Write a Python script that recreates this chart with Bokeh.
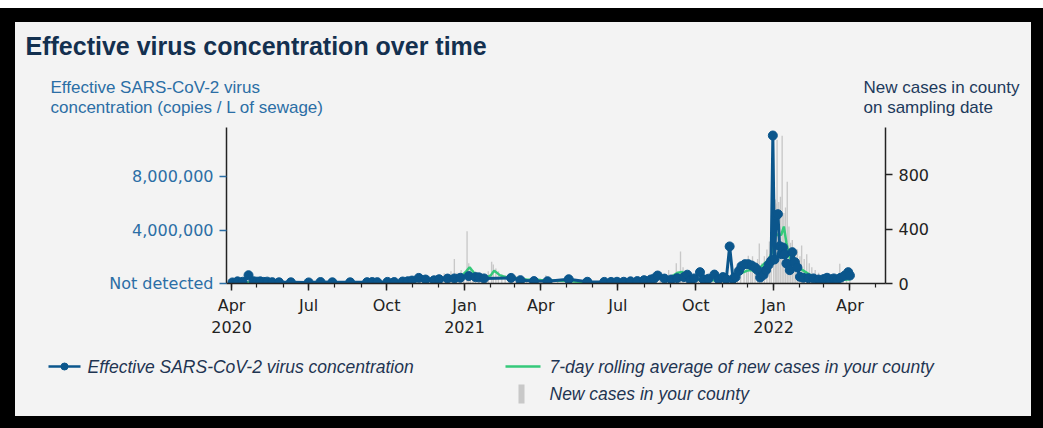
import pandas as pd
from bokeh.plotting import figure
from bokeh.core.properties import value
from bokeh.models import (Range1d, LinearAxis, FixedTicker, ColumnDataSource, GlobalInlineStyleSheet)
from bokeh.embed import file_html
from bokeh.resources import INLINE

# ---------------- data ----------------
conc_dates = [
    "2020-04-02", "2020-04-08", "2020-04-14", "2020-04-21", "2020-04-27", "2020-05-01", "2020-05-05",
    "2020-05-09", "2020-05-13", "2020-05-19", "2020-05-27", "2020-06-10", "2020-07-01", "2020-07-15",
    "2020-07-29", "2020-08-19", "2020-09-08", "2020-09-14", "2020-09-20", "2020-10-02", "2020-10-10",
    "2020-10-20", "2020-10-26", "2020-10-31", "2020-11-08", "2020-11-16", "2020-11-26", "2020-12-02",
    "2020-12-12", "2020-12-20", "2020-12-27", "2021-01-06", "2021-01-14", "2021-01-18", "2021-01-24",
    "2021-02-25", "2021-03-08", "2021-03-24", "2021-04-09", "2021-05-04", "2021-05-26", "2021-06-15",
    "2021-06-23", "2021-06-30", "2021-07-08", "2021-07-16", "2021-07-24", "2021-08-01", "2021-08-09",
    "2021-08-13", "2021-08-17", "2021-08-25", "2021-09-02", "2021-09-09", "2021-09-17", "2021-09-21",
    "2021-09-25", "2021-09-29", "2021-10-06", "2021-10-10", "2021-10-16", "2021-10-23", "2021-10-28",
    "2021-11-02", "2021-11-06", "2021-11-10", "2021-11-14", "2021-11-17", "2021-11-21", "2021-11-24",
    "2021-11-28", "2021-12-02", "2021-12-06", "2021-12-10", "2021-12-13", "2021-12-16", "2021-12-20",
    "2021-12-23", "2021-12-26", "2021-12-29", "2021-12-31", "2022-01-02", "2022-01-04", "2022-01-06",
    "2022-01-08", "2022-01-10", "2022-01-12", "2022-01-14", "2022-01-16", "2022-01-18", "2022-01-20",
    "2022-01-23", "2022-01-26", "2022-01-29", "2022-02-01", "2022-02-05", "2022-02-11", "2022-02-17",
    "2022-02-23", "2022-03-01", "2022-03-05", "2022-03-09", "2022-03-13", "2022-03-17", "2022-03-21",
    "2022-03-26", "2022-03-30", "2022-04-01",
]
conc_values = [
    80000, 160000, 130000, 620000, 170000, 140000, 160000,
    120000, 140000, 100000, 90000, 90000, 80000, 110000,
    90000, 90000, 100000, 110000, 100000, 120000, 110000,
    150000, 170000, 220000, 420000, 300000, 240000, 320000,
    370000, 380000, 430000, 560000, 480000, 460000, 380000,
    420000, 250000, 180000, 170000, 320000, 130000, 120000,
    120000, 130000, 130000, 160000, 180000, 250000, 300000,
    380000, 600000, 370000, 300000, 400000, 480000, 660000,
    250000, 380000, 850000, 320000, 360000, 670000, 300000,
    480000, 320000, 2780000, 350000, 480000, 950000, 1300000,
    1450000, 1450000, 1350000, 1200000, 1000000, 450000, 650000,
    1000000, 1400000, 1700000, 11100000, 1800000, 5100000, 5200000,
    2800000, 2200000, 2700000, 2200000, 1500000, 1450000, 1000000,
    2350000, 1600000, 1200000, 500000, 430000, 400000, 380000,
    300000, 330000, 430000, 300000, 380000, 300000, 430000,
    600000, 850000, 600000,
]

case_dates = [
    "2020-04-03", "2020-04-08", "2020-04-13", "2020-04-17", "2020-04-21", "2020-04-24", "2020-04-28",
    "2020-05-02", "2020-05-06", "2020-05-12", "2020-05-20", "2020-06-01", "2020-06-15", "2020-07-01",
    "2020-07-10", "2020-07-20", "2020-08-01", "2020-08-15", "2020-09-01", "2020-09-15", "2020-10-01",
    "2020-10-15", "2020-10-22", "2020-10-29", "2020-11-05", "2020-11-10", "2020-11-14", "2020-11-19",
    "2020-11-24", "2020-11-30", "2020-12-03", "2020-12-08", "2020-12-12", "2020-12-16", "2020-12-20",
    "2020-12-23", "2020-12-28", "2020-12-31", "2021-01-04", "2021-01-06", "2021-01-08", "2021-01-11",
    "2021-01-14", "2021-01-18", "2021-01-22", "2021-01-26", "2021-01-29", "2021-02-02", "2021-02-04",
    "2021-02-07", "2021-02-10", "2021-02-14", "2021-02-18", "2021-02-22", "2021-02-26", "2021-03-03",
    "2021-03-09", "2021-03-15", "2021-03-22", "2021-03-29", "2021-04-07", "2021-04-14", "2021-04-21",
    "2021-05-01", "2021-05-12", "2021-05-24", "2021-06-05", "2021-06-20", "2021-07-05", "2021-07-20",
    "2021-07-28", "2021-08-05", "2021-08-12", "2021-08-20", "2021-08-25", "2021-08-30", "2021-09-03",
    "2021-09-08", "2021-09-13", "2021-09-16", "2021-09-20", "2021-09-24", "2021-09-28", "2021-10-04",
    "2021-10-10", "2021-10-18", "2021-10-25", "2021-11-01", "2021-11-08", "2021-11-15", "2021-11-19",
    "2021-11-23", "2021-11-27", "2021-11-30", "2021-12-02", "2021-12-05", "2021-12-07", "2021-12-10",
    "2021-12-13", "2021-12-15", "2021-12-18", "2021-12-21", "2021-12-24", "2021-12-27", "2021-12-29",
    "2022-01-01", "2022-01-03", "2022-01-04", "2022-01-05", "2022-01-07", "2022-01-09", "2022-01-11",
    "2022-01-13", "2022-01-15", "2022-01-17", "2022-01-19", "2022-01-21", "2022-01-23", "2022-01-25",
    "2022-01-27", "2022-01-29", "2022-02-01", "2022-02-03", "2022-02-06", "2022-02-09", "2022-02-12",
    "2022-02-15", "2022-02-19", "2022-02-23", "2022-02-27", "2022-03-03", "2022-03-08", "2022-03-14",
    "2022-03-20", "2022-03-24", "2022-03-28", "2022-04-01",
]
case_values = [
    10, 15, 20, 25, 30, 20, 25,
    18, 15, 12, 10, 8, 6, 10,
    8, 12, 10, 8, 6, 10, 12,
    15, 25, 20, 30, 40, 35, 55,
    45, 50, 60, 75, 65, 90, 180,
    80, 100, 70, 385, 150, 120, 100,
    90, 70, 65, 60, 90, 160, 140,
    110, 90, 70, 60, 50, 45, 55,
    40, 35, 30, 35, 60, 30, 25,
    20, 15, 10, 8, 6, 8, 15,
    20, 30, 40, 50, 70, 100, 60,
    150, 235, 120, 80, 60, 50, 40,
    35, 30, 35, 30, 45, 60, 90,
    132, 100, 160, 205, 150, 200, 120,
    180, 295, 150, 200, 250, 310, 220,
    450, 620, 590, 1060, 600, 640, 1090,
    520, 560, 750, 420, 300, 320, 200,
    230, 250, 200, 280, 180, 215, 150,
    120, 100, 80, 60, 50, 40, 60,
    145, 50, 40, 30,
]

avg_dates = [
    "2020-04-01", "2020-04-20", "2020-05-15", "2020-06-15", "2020-07-15", "2020-08-15", "2020-09-15",
    "2020-10-15", "2020-11-01", "2020-11-15", "2020-12-01", "2020-12-10", "2020-12-18", "2020-12-28",
    "2021-01-03", "2021-01-07", "2021-01-12", "2021-01-18", "2021-01-25", "2021-02-01", "2021-02-05",
    "2021-02-12", "2021-02-20", "2021-03-01", "2021-03-15", "2021-04-01", "2021-04-15", "2021-05-01",
    "2021-05-15", "2021-06-01", "2021-06-15", "2021-07-01", "2021-07-15", "2021-08-01", "2021-08-15",
    "2021-09-01", "2021-09-10", "2021-09-15", "2021-09-20", "2021-10-01", "2021-10-15", "2021-11-01",
    "2021-11-15", "2021-11-20", "2021-11-25", "2021-12-01", "2021-12-06", "2021-12-10", "2021-12-18",
    "2021-12-26", "2021-12-30", "2022-01-03", "2022-01-06", "2022-01-10", "2022-01-13", "2022-01-16",
    "2022-01-20", "2022-01-27", "2022-02-05", "2022-02-15", "2022-02-25", "2022-03-10", "2022-03-20",
    "2022-03-30", "2022-04-02",
]
avg_values = [
    2, 8, 5, 3, 5, 6, 6,
    10, 20, 30, 35, 40, 55, 50,
    90, 120, 80, 50, 40, 60, 95,
    60, 45, 40, 30, 25, 22, 18,
    12, 8, 5, 5, 8, 20, 40,
    45, 80, 85, 60, 30, 25, 20,
    30, 60, 80, 95, 100, 84, 130,
    175, 230, 370, 355, 360, 420, 300,
    190, 130, 95, 55, 40, 30, 25,
    30, 35,
]

x_tick_dates = ["2020-04-01", "2020-07-01", "2020-10-01", "2021-01-01", "2021-04-01",
                "2021-07-01", "2021-10-01", "2022-01-01", "2022-04-01"]
x_tick_labels = ["Apr\n2020", "Jul", "Oct", "Jan\n2021", "Apr", "Jul", "Oct", "Jan\n2022", "Apr"]
conc_ticks = [0, 4000000, 8000000]
conc_tick_labels = ["Not detected", "4,000,000", "8,000,000"]
case_ticks = [0, 400, 800]

title_text = "Effective virus concentration over time"
left_label_lines = ["Effective SARS-CoV-2 virus", "concentration (copies / L of sewage)"]
right_label_lines = ["New cases in county", "on sampling date"]
legend_labels = ["Effective SARS-CoV-2 virus concentration",
                 "7-day rolling average of new cases in your county",
                 "New cases in your county"]

# ---------------- styling ----------------
BG = "#f3f3f3"
BLUE = "#0b568c"
GREEN = "#35c97a"
GRAY = "#c8c8c8"
AXBLUE = "#2b6ea5"
NAVY = "#13304f"
RNAVY = "#1d3a5c"
LEGTXT = "#1f3552"
W = 1016
FONT = value("Liberation Sans")


def ms(s):
    return int(pd.Timestamp(s).value // 10**6)


DAY = 86400000
x0, x1 = ms("2020-03-26"), ms("2022-05-13")


def strip(h):
    """A figure whose plotting frame is its whole canvas (1 data unit = 1 px)."""
    f = figure(width=W, height=h, output_backend="svg", toolbar_location=None,
               x_range=Range1d(0, W), y_range=Range1d(0, h),
               x_axis_location=None, y_axis_location=None,
               min_border_left=0, min_border_right=0, min_border_top=0, min_border_bottom=0,
               background_fill_color=BG, border_fill_color=BG)
    f.outline_line_color = None
    f.xgrid.visible = False
    f.ygrid.visible = False
    return f


# ---------------- header: title and the two axis titles ----------------
head = strip(105)


def head_text(txt, x, y, size, color, style="normal"):
    head.text(x=[x], y=[y], text=[txt], text_font=FONT, text_font_size=size,
              text_font_style=style, text_color=color,
              text_align="left", text_baseline="alphabetic")


head_text(title_text, 10, 82, "25px", NAVY, "bold")
head_text(left_label_lines[0], 35, 40, "17px", AXBLUE)
head_text(left_label_lines[1], 35, 20, "17px", AXBLUE)
head_text(right_label_lines[0], 848, 40, "17px", RNAVY)
head_text(right_label_lines[1], 848, 20, "17px", RNAVY)

# ---------------- main chart ----------------
p = figure(width=W, height=213, x_axis_type="datetime",
           output_backend="svg", toolbar_location=None,
           x_range=Range1d(x0, x1), y_range=Range1d(0, 11.7e6),
           min_border_left=211, min_border_right=146, min_border_top=0, min_border_bottom=55,
           background_fill_color=BG, border_fill_color=BG)
p.outline_line_color = None
p.extra_y_ranges = {"cases": Range1d(0, 1150)}
p.xgrid.visible = False
p.ygrid.visible = False
p.stylesheets = [GlobalInlineStyleSheet(css=(
    "html{background-color:#000000;background-image:linear-gradient(#ffffff,#ffffff);"
    "background-repeat:no-repeat;background-size:100% 8px;overflow:hidden;}"
    "html body{margin:22px 12px 0 15px !important;padding:0 !important;height:auto !important;"
    "background:" + BG + ";display:flex !important;flex-direction:column;align-items:flex-start;}"
))]

case_src = ColumnDataSource(dict(x=[ms(d) for d in case_dates], top=case_values))
avg_src = ColumnDataSource(dict(x=[ms(d) for d in avg_dates], y=avg_values))
conc_src = ColumnDataSource(dict(x=[ms(d) for d in conc_dates], y=conc_values))

p.vbar(x="x", top="top", width=1.6 * DAY, source=case_src, y_range_name="cases",
       fill_color=GRAY, line_color=None)
p.line(x="x", y="y", source=avg_src, y_range_name="cases", line_color=GREEN, line_width=2.5)
p.line(x="x", y="y", source=conc_src, line_color=BLUE, line_width=3)
p.scatter(x="x", y="y", source=conc_src, marker="circle", size=9, fill_color=BLUE, line_color=BLUE)

xa = p.xaxis[0]
xa.ticker = FixedTicker(ticks=[ms(d) for d in x_tick_dates],
                        minor_ticks=[ms(f"{y}-{m:02d}-01") for y in (2020, 2021, 2022) for m in range(1, 13)
                                     if x0 <= ms(f"{y}-{m:02d}-01") <= x1])
xa.major_label_overrides = {ms(d): lab for d, lab in zip(x_tick_dates, x_tick_labels)}
xa.major_label_text_font = "DejaVu Sans"
xa.major_label_text_font_size = "16px"
xa.major_label_text_color = "#222222"
xa.major_tick_out = 7
xa.major_tick_in = 0
xa.minor_tick_out = 4
xa.minor_tick_in = 0
xa.axis_line_color = "#222222"
xa.axis_line_width = 1.5
xa.major_tick_line_color = "#222222"
xa.major_tick_line_width = 1.5
xa.minor_tick_line_color = "#222222"
xa.minor_tick_line_width = 1.2
xa.major_label_standoff = 5

ya = p.yaxis[0]
ya.ticker = FixedTicker(ticks=conc_ticks)
ya.major_label_overrides = {t: lab for t, lab in zip(conc_ticks, conc_tick_labels)}
ya.major_label_text_font = "DejaVu Sans"
ya.major_label_text_font_size = "16px"
ya.major_label_text_color = AXBLUE
ya.major_tick_out = 7
ya.major_tick_in = 0
ya.minor_tick_out = 0
ya.major_tick_line_color = AXBLUE
ya.major_tick_line_width = 1.5
ya.axis_line_color = "#222222"
ya.axis_line_width = 1.5
ya.major_label_standoff = 6

ra = LinearAxis(y_range_name="cases", ticker=FixedTicker(ticks=case_ticks))
ra.major_label_text_font = "DejaVu Sans"
ra.major_label_text_font_size = "16px"
ra.major_label_text_color = "#222222"
ra.major_tick_out = 7
ra.major_tick_in = 0
ra.minor_tick_out = 0
ra.major_tick_line_color = "#222222"
ra.major_tick_line_width = 1.5
ra.axis_line_color = "#222222"
ra.axis_line_width = 1.5
ra.major_label_standoff = 6
p.add_layout(ra, "right")

# ---------------- legend strip ----------------
leg = strip(76)
# key 1: line with a dot
leg.line(x=[33, 65], y=[50, 50], line_color=BLUE, line_width=2.5)
leg.scatter(x=[49], y=[50], marker="circle", size=7, fill_color=BLUE, line_color=BLUE)
# key 2: green line
leg.line(x=[490, 525], y=[50, 50], line_color=GREEN, line_width=2.5)
# key 3: grey bar
leg.quad(left=[503], right=[509], bottom=[13], top=[32], fill_color=GRAY, line_color=None)

for txt, x, y in ((legend_labels[0], 72, 50), (legend_labels[1], 534, 50), (legend_labels[2], 534, 23)):
    leg.text(x=[x], y=[y], text=[txt], text_font=FONT, text_font_size="17.5px",
             text_font_style="italic", text_color=LEGTXT,
             text_align="left", text_baseline="middle")

open("out.html", "w").write(file_html([head, p, leg], INLINE))
